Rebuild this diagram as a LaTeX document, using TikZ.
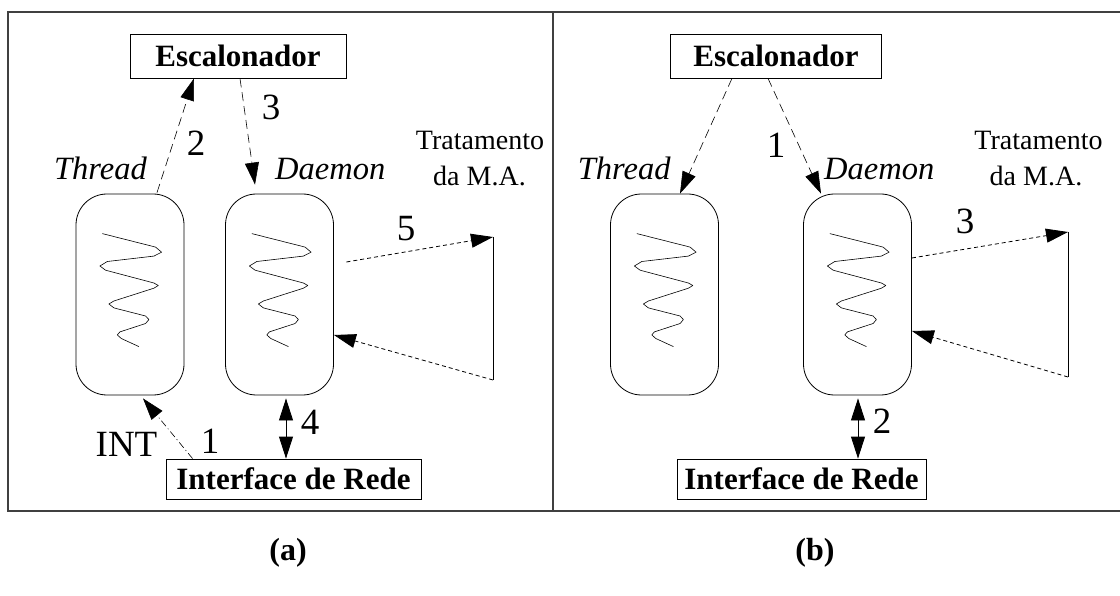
\documentclass[tikz,border=0pt]{standalone}
\usepackage{fontspec}
\setmainfont{Liberation Serif}
\usetikzlibrary{arrows.meta,calc}

\tikzset{
  % spiral drawn inside a thread/daemon capsule, placed at its north west corner
  coil/.pic={
    \draw[line width=0.6pt, line join=round]
      (26.7,40) -- (80,53.5) -- (86,58.6) -- (78.3,62.5) -- (31.7,67.9) -- (24.3,72.4)
      -- (30,76.6) -- (78.3,89.4) -- (82.7,91.9) -- (78.3,94.6) -- (38.3,107.4)
      -- (33.3,110.4) -- (38.3,114.3) -- (70,122.4) -- (73.3,126) -- (70,129.9)
      -- (44.3,138.3) -- (41.7,141.3) -- (45.7,144.9) -- (63.3,153);
  }
}

\begin{document}
\begin{tikzpicture}[x=1pt,y=-1pt,
  capsule/.style={draw, line width=0.8pt, rounded corners=31pt,
    minimum width=108pt, minimum height=201pt, inner sep=0pt},
  unitbox/.style={draw, line width=0.8pt, inner sep=0pt,
    font=\fontsize{31}{31}\selectfont\bfseries},
  role/.style={inner sep=0pt, font=\fontsize{32.5}{33}\selectfont\itshape},
  note/.style={inner sep=0pt, anchor=base, font=\fontsize{28}{30}\selectfont},
  num/.style={inner sep=0pt, anchor=base, font=\fontsize{37}{37}\selectfont},
  caption/.style={inner sep=0pt, font=\fontsize{32}{32}\selectfont\bfseries},
  frame/.style={draw=black!75, line width=1.3pt},
  head/.style={-{Triangle[length=22pt,width=14pt]}},
  twohead/.style={{Triangle[length=22pt,width=14pt]}-{Triangle[length=22pt,width=14pt]}, line width=0.8pt},
  sched/.style={head, line width=0.6pt, dash pattern=on 9pt off 5pt},
  intr/.style={head, line width=0.6pt, dash pattern=on 7pt off 3pt on 1pt off 3pt},
  mem/.style={head, line width=0.8pt, dash pattern=on 4pt off 3pt},
]
\useasboundingbox (0,0) rectangle (1120,596);

% outer frame split in two panels
\draw[frame] (8,12) rectangle (1126,511);
\draw[frame] (553,12) -- (553,511);

% ---------------- panel (a) ----------------
\node[unitbox, minimum width=216pt, minimum height=44pt] (escA) at (238,56) {Escalonador};
\node[capsule] (tA) at (130,294.5) {};
\node[capsule] (dA) at (279.5,294.5) {};
\pic at (tA.north west) {coil};
\pic at (dA.north west) {coil};
\node[unitbox, minimum width=255pt, minimum height=40pt] (ifA) at (293.5,479) {Interface de Rede};

\node[role, anchor=base east] (thA) at (147,180) {Thread};
\node[role, anchor=base west] (dmA) at (275,180) {Daemon};
\node[note] (trA1) at (480,150) {Tratamento};
\node[note] (trA2) at (479.5,186) {da M.A.};

\coordinate (maA1) at (493,237);
\coordinate (maA2) at (493,380);

\draw[sched] ([xshift=27pt,yshift=1pt]tA.north) -- ([xshift=-44pt]escA.south);
\draw[sched] ([xshift=2pt]escA.south) -- ([xshift=-24.5pt,yshift=9pt]dA.north);
\draw[intr] ([xshift=27pt]ifA.north west) -- ([xshift=13pt,yshift=-3pt]tA.south);
\draw[twohead] ([xshift=6.5pt,yshift=-3pt]dA.south) -- ([xshift=-7.5pt]ifA.north);
\draw[mem] ([xshift=12.5pt,yshift=32.5pt]dA.east) -- (maA1);
\draw[line width=0.8pt] (maA1) -- (maA2);
\draw[mem] (maA2) -- ([yshift=-40.5pt]dA.east);

\node[num] (nA2) at (196,156) {2};
\node[num] (nA3) at (271,120) {3};
\node[num] (nA5) at (406,241) {5};
\node[num] (nA1) at (210,453) {1};
\node[num] (nA4) at (310,434) {4};
\node[num] (intA) at (126.5,456) {INT};

% ---------------- panel (b) ----------------
\node[unitbox, minimum width=211pt, minimum height=44pt] (escB) at (776,56) {Escalonador};
\node[capsule] (tB) at (664.5,294.5) {};
\node[capsule] (dB) at (857.5,294.5) {};
\pic at (tB.north west) {coil};
\pic at (dB.north west) {coil};
\node[unitbox, minimum width=249pt, minimum height=40pt] (ifB) at (801.5,479) {Interface de Rede};

\node[role, anchor=base east] (thB) at (670.7,180) {Thread};
\node[role, anchor=base west] (dmB) at (824,180) {Daemon};
\node[note] (trB1) at (1038.5,150) {Tratamento};
\node[note] (trB2) at (1036,186) {da M.A.};

\coordinate (maB1) at (1068,232);
\coordinate (maB2) at (1068,377);

\draw[sched] ([xshift=-44pt]escB.south) -- ([xshift=15.5pt]tB.north);
\draw[sched] ([xshift=-8pt]escB.south) -- ([xshift=-36.5pt]dB.north);
\draw[twohead] ([xshift=0.5pt,yshift=-3pt]dB.south) -- ([xshift=56.5pt]ifB.north);
\draw[mem] ([yshift=36.5pt]dB.east) -- (maB1);
\draw[line width=0.8pt] (maB1) -- (maB2);
\draw[mem] (maB2) -- ([yshift=-36.5pt]dB.east);

\node[num] (nB1) at (776,158) {1};
\node[num] (nB3) at (965,234) {3};
\node[num] (nB2) at (882,433) {2};

% panel captions
\node[caption] (capA) at (288,553) {(a)};
\node[caption] (capB) at (815,553) {(b)};
\end{tikzpicture}
\end{document}
